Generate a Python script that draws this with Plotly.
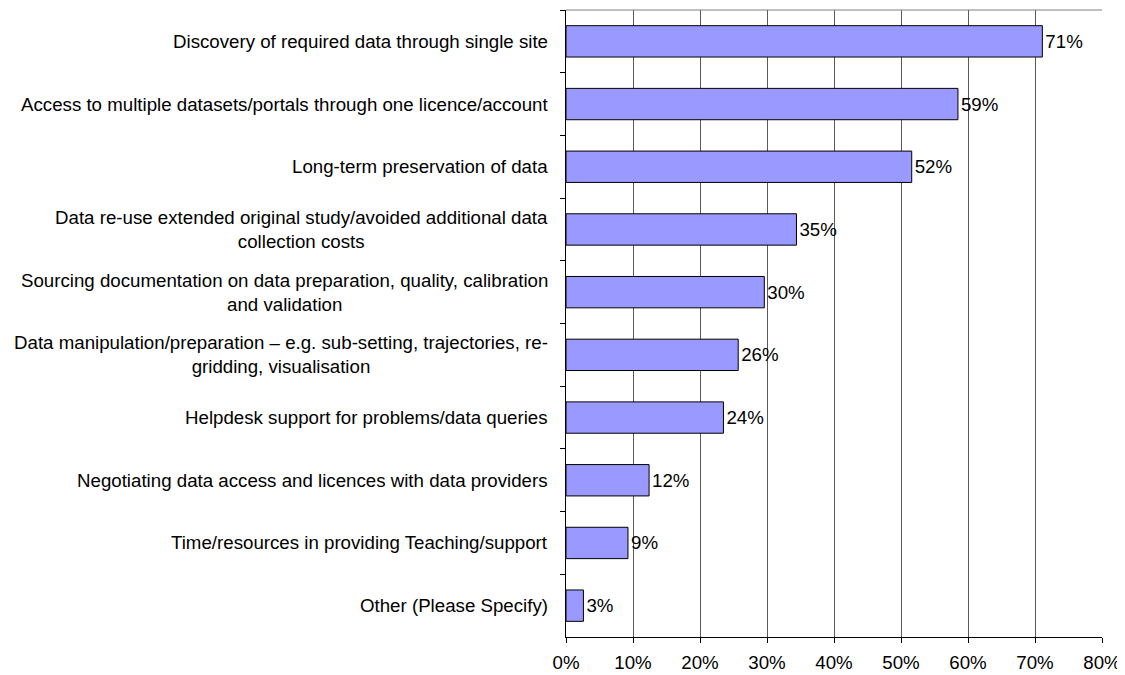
import plotly.graph_objects as go

categories = [
    "Discovery of required data through single site",
    "Access to multiple datasets/portals through one licence/account",
    "Long-term preservation of data",
    "Data re-use extended original study/avoided additional data<br>collection costs",
    "Sourcing documentation on data preparation, quality, calibration<br>and validation",
    "Data manipulation/preparation \u2013 e.g. sub-setting, trajectories, re-<br>gridding, visualisation",
    "Helpdesk support for problems/data queries",
    "Negotiating data access and licences with data providers",
    "Time/resources in providing Teaching/support",
    "Other (Please Specify)",
]
values = [71.1, 58.5, 51.6, 34.4, 29.6, 25.7, 23.5, 12.4, 9.25, 2.6]
value_labels = ["71%", "59%", "52%", "35%", "30%", "26%", "24%", "12%", "9%", "3%"]
x_ticks = [0, 10, 20, 30, 40, 50, 60, 70, 80]
x_tick_labels = ["0%", "10%", "20%", "30%", "40%", "50%", "60%", "70%", "80%"]

FONT = "Liberation Sans, Arial, sans-serif"
FS = 18.7

fig = go.Figure()
fig.add_trace(go.Bar(
    y=categories,
    x=values,
    orientation="h",
    width=0.5,
    marker=dict(color="#9999FF", line=dict(color="black", width=1)),
    text=value_labels,
    textposition="outside",
    textfont=dict(family=FONT, size=FS, color="black"),
    cliponaxis=False,
))

for c in categories:
    fig.add_annotation(
        x=0, xref="paper", y=c, yref="y",
        text=c, showarrow=False,
        xanchor="right", yanchor="middle", align="center",
        xshift=-16,
        font=dict(family=FONT, size=FS, color="black"),
    )

fig.add_shape(type="line", xref="paper", yref="paper", x0=0, x1=1, y0=1, y1=1,
              line=dict(color="#808080", width=1))

fig.update_layout(
    width=1117, height=667,
    margin=dict(l=558, r=23, t=2, b=38),
    paper_bgcolor="white", plot_bgcolor="white",
    showlegend=False,
    font=dict(family=FONT, size=FS, color="black"),
    xaxis=dict(
        range=[0, 80],
        tickvals=x_ticks, ticktext=x_tick_labels,
        showgrid=True, gridcolor="#5a5a5a", gridwidth=1,
        showline=True, linecolor="black", linewidth=1,
        ticks="outside", ticklen=5, tickcolor="black",
        ticklabelstandoff=4,
        zeroline=False,
        tickfont=dict(family=FONT, size=FS, color="black"),
    ),
    yaxis=dict(
        categoryorder="array", categoryarray=categories,
        autorange="reversed",
        showticklabels=False,
        showline=True, linecolor="black", linewidth=1,
        ticks="outside", ticklen=5, tickcolor="black", tickson="boundaries",
        showgrid=False, zeroline=False,
    ),
)

fig.write_html("out.html")
